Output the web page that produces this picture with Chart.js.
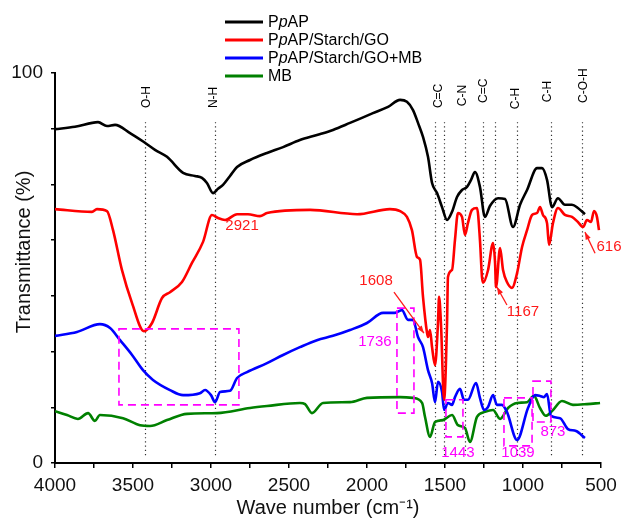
<!DOCTYPE html>
<html><head><meta charset="utf-8">
<script src="https://cdn.jsdelivr.net/npm/chart.js@4/dist/chart.umd.min.js"></script>
<style>html,body{margin:0;padding:0;background:#fff}#wrap{width:625px;height:520px}</style>
</head><body><div id="wrap"><canvas id="c" width="625" height="520"></canvas></div>
<script>
const seriesNames = ['PpAP', 'PpAP/Starch/GO', 'PpAP/Starch/GO+MB', 'MB'];
const seriesColors = ['#000000', '#ff0000', '#0000ff', '#008000'];

const waveBlack = [4000,3872,3724,3667,3615,3519,3430,3359,3282,3179,3103,3058,3026,2987,2955,2923,2878,2833,2750,2641,2538,2430,2321,2218,2109,1962,1865,1788,1744,1705,1673,1641,1609,1583,1551,1519,1487,1455,1423,1391,1359,1333,1308,1276,1244,1212,1160,1115,1064,1019,974,910,878,846,814,776,731,686,648,603];
const tBlack = [85.6,86.2,87.4,86.4,86.7,84.6,82.3,80.3,78.5,74.4,73.6,73.1,71.8,69.2,70.3,71.3,73.6,75.9,77.7,79.5,81.0,82.8,84.1,85.4,87.2,89.7,91.3,93.1,92.6,90.5,87.2,83.6,78.5,71.8,69.2,65.6,62.3,64.4,68.2,70.0,70.8,72.6,74.6,70.8,63.1,65.9,67.9,67.7,60.5,66.2,70.0,75.6,75.6,72.6,65.6,67.9,66.2,66.2,65.4,63.8];

const waveRed = [4000,3763,3731,3667,3628,3571,3506,3430,3378,3314,3263,3186,3122,3051,2994,2955,2910,2833,2763,2686,2641,2365,2064,1853,1788,1744,1712,1679,1660,1641,1615,1609,1596,1583,1564,1545,1538,1526,1506,1487,1481,1455,1436,1417,1391,1372,1353,1327,1295,1276,1263,1256,1224,1192,1179,1173,1147,1128,1103,1071,1038,1006,974,942,910,891,872,846,833,808,776,731,686,648,615,590,564,545,526,513];
const tRed = [65.1,64.4,65.1,64.6,59.7,49.5,41.0,33.8,35.9,42.3,43.8,46.4,51.3,56.7,63.6,62.8,62.3,63.8,63.8,63.3,64.1,64.9,63.8,65.1,64.6,63.1,59.7,52.8,52.1,42.6,33.3,32.3,34.1,29.7,25.1,35.9,42.6,35.9,16.2,35.9,47.7,49.5,57.2,64.1,63.1,58.5,61.5,64.9,65.4,57.2,47.7,46.2,49.5,56.4,51.3,45.1,55.1,49.5,46.4,44.9,48.7,55.4,59.7,63.6,64.1,65.6,63.6,61.5,55.9,61.5,65.4,63.6,63.1,61.8,60.5,62.3,61.8,64.6,63.1,59.7];

const waveBlue = [4000,3859,3712,3647,3583,3506,3436,3372,3263,3179,3071,3038,3000,2974,2942,2878,2833,2769,2641,2538,2430,2321,2218,2109,2000,1897,1821,1776,1737,1705,1673,1641,1609,1583,1564,1545,1519,1506,1481,1455,1436,1404,1378,1353,1301,1276,1250,1224,1192,1167,1135,1103,1038,968,923,891,865,846,821,763,712,660,603];
const tBlue = [32.6,33.6,35.6,34.6,31.5,27.7,23.8,21.3,18.7,17.4,17.9,18.7,17.4,15.6,18.2,18.5,21.8,23.3,25.6,27.7,29.7,31.5,32.6,34.1,35.9,38.5,38.5,39.2,36.7,36.7,32.3,29.7,23.8,20.5,15.6,20.8,18.2,13.6,15.4,14.9,16.9,19.0,16.2,16.2,20.5,16.7,13.6,14.4,17.4,14.9,14.9,13.1,5.9,14.1,17.4,17.2,16.9,17.7,12.1,11.5,8.7,8.2,6.4];

const waveGreen = [4000,3923,3853,3788,3744,3712,3564,3455,3391,3282,3154,2962,2750,2641,2430,2397,2353,2282,2109,2000,1788,1705,1647,1628,1596,1564,1513,1455,1417,1372,1340,1295,1244,1192,1147,1096,1038,974,930,891,853,814,750,680,590,506];
const tGreen = [13.3,12.3,11.3,12.8,10.8,12.3,11.5,9.7,9.5,11.0,12.6,12.8,14.1,14.6,15.4,15.1,12.8,15.4,15.6,16.7,16.9,16.7,15.4,11.8,6.7,10.5,11.0,12.3,9.7,9.0,5.4,11.8,13.1,13.6,11.3,14.1,15.4,15.6,17.2,14.1,12.1,13.3,15.9,14.9,15.1,15.4];

const xTicks = [4000, 3500, 3000, 2500, 2000, 1500, 1000, 500];
const yTickLabels = ['0', '100'];
const xTitle = 'Wave number (cm⁻¹)';
const yTitle = 'Transmittance (%)';

// band assignment lines
const bandWaves = [3423, 2974, 1564, 1506, 1372, 1254, 1179, 1036, 822, 620];
const bandLabelText = ['O-H', 'N-H', 'C=C', 'C-N', 'C=C', 'C-H', 'C-H', 'C-O-H'];
const bandLabelWave = [3410, 2981, 1538, 1385, 1250, 1045, 840, 609];
const bandLabelBase = [91, 91, 91, 91.5, 92.3, 90.7, 92.5, 92.3];

// dashed highlight boxes [wave1, wave2, t1, t2]
const boxWaveA = [3590, 1808, 1494, 1122, 936];
const boxWaveB = [2821, 1699, 1385, 942, 821];
const boxTop = [34.4, 39.7, 16.2, 16.7, 21.0];
const boxBottom = [14.9, 12.8, 6.7, 4.4, 10.5];

// peak annotations
const noteText = ['2921', '1608', '1736', '1443', '1039', '873', '1167', '616'];
const noteWave = [2801, 1942, 1949, 1417, 1032, 808, 1000, 449];
const noteT = [60.8, 46.7, 31.0, 2.6, 2.6, 7.9, 38.7, 55.4];
const noteColor = ['#ff1a1a', '#ff1a1a', '#ff00ff', '#ff00ff', '#ff00ff', '#ff00ff', '#ff1a1a', '#ff1a1a'];

// arrows [fromWave, fromT, toWave, toT]
const arrowFromWave = [1827, 1103, 538];
const arrowFromT = [43.8, 40.5, 53.8];
const arrowToWave = [1635, 1167, 603];
const arrowToT = [33.3, 45.1, 59.2];

const FONT = 'Liberation Sans, Arial, sans-serif';

function pts(w, t) { return w.map((x, i) => ({x: x, y: t[i]})); }

const overlay = {
  id: 'overlay',
  beforeDatasetsDraw(chart) {
    const {ctx, scales: {x, y}} = chart;
    ctx.save();
    ctx.strokeStyle = '#333';
    ctx.lineWidth = 1.2;
    ctx.setLineDash([1.2, 3]);
    bandWaves.forEach(w => {
      const px = Math.round(x.getPixelForValue(w)) + 0.5;
      ctx.beginPath();
      ctx.moveTo(px, y.getPixelForValue(87.4));
      ctx.lineTo(px, y.getPixelForValue(2.0));
      ctx.stroke();
    });
    ctx.restore();
  },
  afterDatasetsDraw(chart) {
    const {ctx, scales: {x, y}} = chart;
    ctx.save();
    // band labels
    ctx.fillStyle = '#000';
    ctx.font = '12px ' + FONT;
    ctx.textAlign = 'left';
    ctx.textBaseline = 'middle';
    bandLabelText.forEach((t, i) => {
      ctx.save();
      ctx.translate(x.getPixelForValue(bandLabelWave[i]), y.getPixelForValue(bandLabelBase[i]));
      ctx.rotate(-Math.PI / 2);
      ctx.fillText(t, 0, 0);
      ctx.restore();
    });
    // boxes
    ctx.strokeStyle = '#ff00ff';
    ctx.lineWidth = 1.6;
    ctx.setLineDash([8, 5]);
    boxWaveA.forEach((wa, i) => {
      const x1 = x.getPixelForValue(wa), x2 = x.getPixelForValue(boxWaveB[i]);
      const y1 = y.getPixelForValue(boxTop[i]), y2 = y.getPixelForValue(boxBottom[i]);
      ctx.strokeRect(x1, y1, x2 - x1, y2 - y1);
    });
    ctx.setLineDash([]);
    // notes
    ctx.font = '15px ' + FONT;
    ctx.textAlign = 'center';
    ctx.textBaseline = 'middle';
    noteText.forEach((t, i) => {
      ctx.fillStyle = noteColor[i];
      ctx.fillText(t, x.getPixelForValue(noteWave[i]), y.getPixelForValue(noteT[i]));
    });
    // arrows
    ctx.strokeStyle = '#ff1a1a';
    ctx.fillStyle = '#ff1a1a';
    ctx.lineWidth = 1.3;
    arrowFromWave.forEach((fw, i) => {
      const x1 = x.getPixelForValue(fw), y1 = y.getPixelForValue(arrowFromT[i]);
      const x2 = x.getPixelForValue(arrowToWave[i]), y2 = y.getPixelForValue(arrowToT[i]);
      const a = Math.atan2(y2 - y1, x2 - x1);
      ctx.beginPath(); ctx.moveTo(x1, y1); ctx.lineTo(x2, y2); ctx.stroke();
      ctx.beginPath();
      ctx.moveTo(x2, y2);
      ctx.lineTo(x2 - 8 * Math.cos(a - 0.35), y2 - 8 * Math.sin(a - 0.35));
      ctx.lineTo(x2 - 8 * Math.cos(a + 0.35), y2 - 8 * Math.sin(a + 0.35));
      ctx.closePath(); ctx.fill();
    });
    ctx.restore();
  },
  afterDraw(chart) {
    const ctx = chart.ctx;
    ctx.save();
    // y-axis title (placed as in the original, above the axis centre)
    ctx.fillStyle = '#111';
    ctx.font = '20px ' + FONT;
    ctx.textAlign = 'center';
    ctx.textBaseline = 'middle';
    ctx.translate(24, 252);
    ctx.rotate(-Math.PI / 2);
    ctx.fillText(yTitle, 0, 0);
    ctx.restore();

    ctx.save();
    const lx1 = 225, lx2 = 263, tx = 268, y0 = 22, dy = 18;
    seriesNames.forEach((name, i) => {
      const yy = y0 + i * dy;
      ctx.strokeStyle = seriesColors[i];
      ctx.lineWidth = 3;
      ctx.beginPath(); ctx.moveTo(lx1, yy); ctx.lineTo(lx2, yy); ctx.stroke();
      ctx.fillStyle = '#000';
      ctx.textBaseline = 'middle';
      ctx.textAlign = 'left';
      let cx = tx;
      let parts;
      if (name.startsWith('PpAP')) parts = [[name[0], false], [name[1], true], [name.slice(2), false]];
      else parts = [[name, false]];
      parts.forEach(([s, it]) => {
        ctx.font = (it ? 'italic ' : '') + '16px ' + FONT;
        ctx.fillText(s, cx, yy + 1);
        cx += ctx.measureText(s).width;
      });
    });
    ctx.restore();
  }
};

new Chart(document.getElementById('c'), {
  type: 'line',
  data: {
    datasets: [
      {label: seriesNames[0], data: pts(waveBlack, tBlack), borderColor: seriesColors[0]},
      {label: seriesNames[1], data: pts(waveRed, tRed), borderColor: seriesColors[1]},
      {label: seriesNames[2], data: pts(waveBlue, tBlue), borderColor: seriesColors[2]},
      {label: seriesNames[3], data: pts(waveGreen, tGreen), borderColor: seriesColors[3]}
    ].map(d => Object.assign(d, {borderWidth: 2.6, pointRadius: 0, fill: false, cubicInterpolationMode: 'monotone'}))
  },
  options: {
    responsive: false,
    animation: false,
    devicePixelRatio: 1,
    layout: {padding: {top: 73, right: 24, left: 0, bottom: 0}},
    plugins: {legend: {display: false}, tooltip: {enabled: false}},
    scales: {
      x: {
        type: 'linear', reverse: true, min: 500, max: 4000,
        afterFit(s) { s.height = 57; },
        afterBuildTicks(s) {
          const t = [];
          for (let v = 4000; v >= 500; v -= 250) t.push({value: v});
          s.ticks = t;
        },
        ticks: {
          autoSkip: false, maxRotation: 0, padding: 6, color: '#111',
          font: {size: 19, family: FONT},
          callback: v => xTicks.includes(v) ? String(v) : ''
        },
        grid: {display: true, drawOnChartArea: false, drawTicks: true, tickLength: 5, color: '#000', lineWidth: 1.5},
        border: {display: true, color: '#000', width: 2},
        title: {display: true, text: xTitle, color: '#111', font: {size: 20, family: FONT}, padding: {top: 0, bottom: 0}}
      },
      y: {
        min: 0, max: 100,
        afterFit(s) { s.width = 55; },
        afterBuildTicks(s) {
          const t = [];
          for (let k = 0; k <= 7; k++) t.push({value: k === 7 ? 100 : k * 100 / 7});
          s.ticks = t;
        },
        ticks: {
          autoSkip: false, padding: 8, color: '#111',
          font: {size: 19, family: FONT},
          callback: v => (v === 0 ? yTickLabels[0] : (v === 100 ? yTickLabels[1] : ''))
        },
        grid: {display: true, drawOnChartArea: false, drawTicks: true, tickLength: 4, color: '#000', lineWidth: 1.5},
        border: {display: true, color: '#000', width: 2},
        title: {display: false}
      }
    }
  },
  plugins: [overlay]
});
</script>
</body></html>
